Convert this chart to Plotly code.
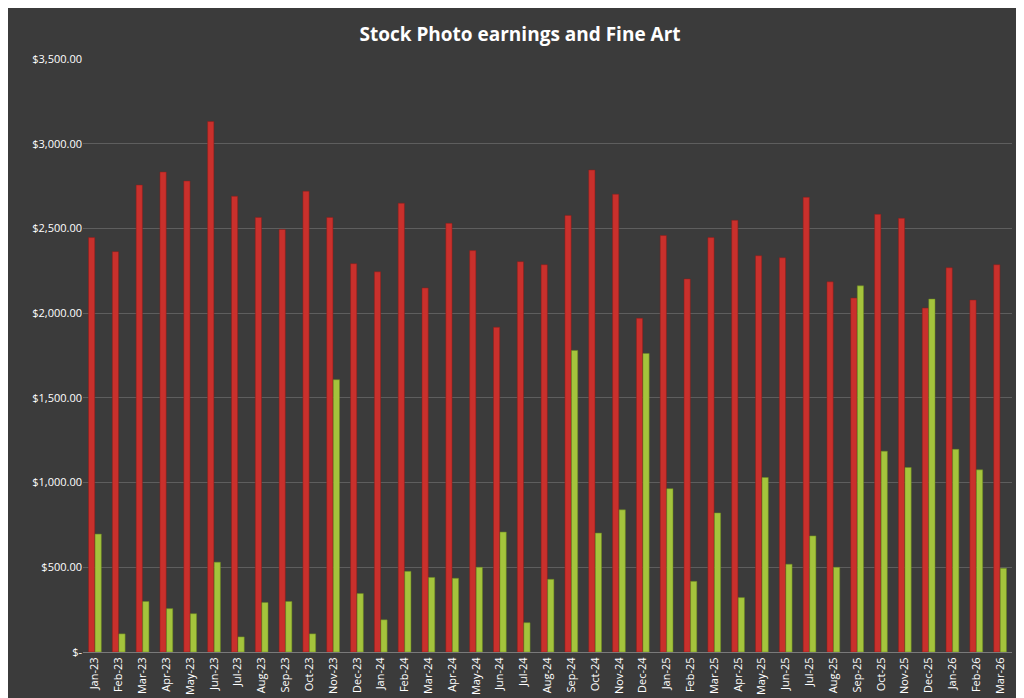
import plotly.graph_objects as go

months = ["Jan-23", "Feb-23", "Mar-23", "Apr-23", "May-23", "Jun-23", "Jul-23", "Aug-23", "Sep-23",
          "Oct-23", "Nov-23", "Dec-23", "Jan-24", "Feb-24", "Mar-24", "Apr-24", "May-24", "Jun-24",
          "Jul-24", "Aug-24", "Sep-24", "Oct-24", "Nov-24", "Dec-24", "Jan-25", "Feb-25", "Mar-25",
          "Apr-25", "May-25", "Jun-25", "Jul-25", "Aug-25", "Sep-25", "Oct-25", "Nov-25", "Dec-25",
          "Jan-26", "Feb-26", "Mar-26"]

stock_photo = [2446, 2363, 2756, 2833, 2780, 3131, 2690, 2565, 2494, 2720, 2565, 2292, 2244,
               2649, 2149, 2530, 2369, 1917, 2304, 2286, 2577, 2845, 2702, 1970, 2458, 2202,
               2446, 2548, 2339, 2327, 2684, 2185, 2089, 2583, 2560, 2030, 2268, 2077, 2286]

fine_art = [696, 107, 298, 256, 226, 530, 89, 292, 298, 107, 1607, 345, 190, 476, 440, 435,
            500, 708, 173, 429, 1780, 702, 839, 1762, 964, 417, 821, 321, 1030, 518, 685, 500,
            2161, 1185, 1089, 2083, 1196, 1075, 494]

ytick_vals = [0, 500, 1000, 1500, 2000, 2500, 3000, 3500]
ytick_text = ["$-", "$500.00", "$1,000.00", "$1,500.00", "$2,000.00", "$2,500.00", "$3,000.00", "$3,500.00"]

fig = go.Figure()
fig.add_trace(go.Bar(x=months, y=stock_photo, name="Stock Photo",
                     marker=dict(color="#c9302c", line=dict(color="#8e1c18", width=0.5))))
fig.add_trace(go.Bar(x=months, y=fine_art, name="Fine Art",
                     marker=dict(color="#a4c43c", line=dict(color="#6d8a1e", width=0.5))))

fig.update_layout(
    width=1024, height=698,
    title=dict(text="<b>Stock Photo earnings and Fine Art</b>", x=0.5, y=0.972,
               font=dict(family="Open Sans", size=19, color="white")),
    paper_bgcolor="#3b3b3b", plot_bgcolor="#3b3b3b",
    barmode="group", bargap=0.45, bargroupgap=0.05,
    showlegend=False,
    margin=dict(l=75, r=20, t=51, b=54),
    font=dict(family="Open Sans", color="white", size=11),
    xaxis=dict(tickangle=-90, tickfont=dict(size=11, color="white"), showgrid=False,
               showline=True, linecolor="#7a7a7a"),
    yaxis=dict(range=[0, 3500], tickvals=ytick_vals, ticktext=ytick_text,
               tickfont=dict(size=11, color="white"), gridcolor="#5e5e5e", zeroline=False),
)

fig.write_html("out.html")
